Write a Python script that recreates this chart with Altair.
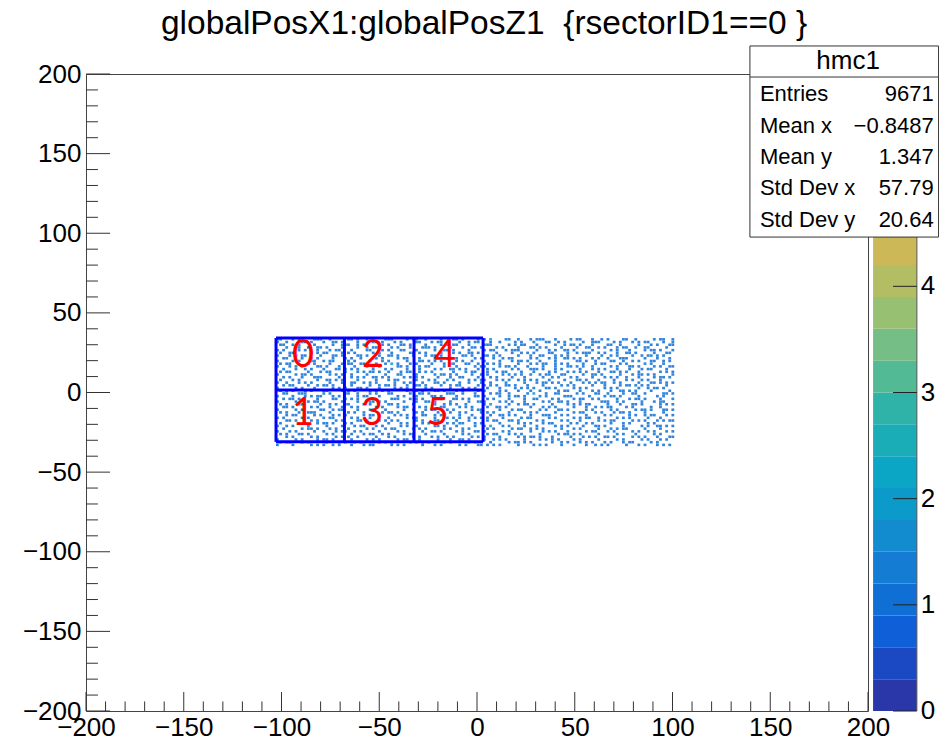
import altair as alt
import pandas as pd

# Bin occupancy read by eye from the noisy region (. empty, digit = bin content)
cell_rows = [
"11...1.1....111..1.....11.1..1.1...111....1.11..1....1...11.1....1.1.2....11..1...1.111...1....1.11...1..1.1....11..1.....1.11..1",
"1..1....11.1...1..11.1....1....11.1...1.1....11...1.11.....1..1.11...1..1....1.1...1...11..1.1.....1..111....1.1...1.1.11....1..1",
".11..1.1....1.....1..111..1.1.....1.1...11.1....1....1.1.11...1....111.....1.1.11...1.....1..1.11.1...1....11..1.....1...1.1...11",
"...1..11..1..11.1....1....1..1.11....1.1...1...111.1....1...1..11.1....1.1....1...11.1.1....1....1..11..1.1...1.11..1..11.....1..",
"1.1....1.1...1...1.11...1....11...1.1...11...1.....1..11.1....1....1.11...1.111.....1...1.1..11.1.....1.....1.1...1....1.11.1...1",
".1..11.....1.1.11....1.1.1.....1.1...1.....11.1.1....1...1.1..11.1.....1....1..1.1.1....11....1..1.111..1.1...1..11.1.....1...11.",
"1...1.1.11....1...11.1....11.1...1..11.1....1...1.11.1......11.1...11.1.1.....1...1..11...1.1.1.....1....1..1.1....1..1.11.1.1...",
"..11....1..1.1....1...1.1..1...11.1....1.11...1....1...11.1.....1.1...1..1.11.....1.1...1.1..11.1.1...1.1..1...111.....1...1...1.",
"1....1.1...11..1.11....1.1....1...1.1.....1...11.1.1.1....1.1..1...1....1...1.11.1...1....1......11.1..1....11..1..1.1...11..1.1.",
".1.11.....1.1....1...1.11..11...1..1.2.1...1.1....1...1.11...11..1..1.1.1.....1...1.1.11..1.1.1....1...1.11....1.1.....1.1...1...",
"1...1.1.1....11.1...1....1...1.1.1.....11.1...1.11....1...1.....1.11....1.11.1...1....1...1...11.1.1..1.....1.1...11.1....1.1..11",
"..1...1..1.1...1...11.1.1.1....1...1.1....1...1....1.1..11.1.1...1..1.1.....1.1...111.1...1.1.....1...1.1.1...1...1...1.11....1..",
".1.11.....1...1.11....1...1.1.11.1..1...1.11..1.1.1......1...1.11...1..1.11....1...1....1.1...1.1.1.1...1...11.1.1...1......1.1.1",
"1.....1.11.1.....1.1.1..1....1.....1...11....1.....1.11.1.1....1..1.1....1.1.1.1..1..1.11...11.....1..11.1.....1...1.11.1.1.....1",
"..1.1...1...111.....1...1.1.1..11.1.1....1.1.1.1....1...1..11....1...1.1....1...1.....1..1.1...1.1....1...1.1.1..1...1....1.11.1.",
".1...1.1.....1..11.1.1....1.....1...1.11.....1...1.1...1.1....1.1.11...1.1.1..1.1.1.1...1....1...11.1...1....1...1.1..1.1...1....",
"1..1...1.1.1.....1...1..11..1.1.1.....1..1.1...1...11.1....1..1...1..1....1.....1...1.11.1.1...1...1.1.1.11..1.1.....1...11.1.1.1",
"..1.11....1..1.11.1.....1.....1..1.11.1...1..11.1....1..1.11.....1.1.1.1..11.1...1....1.....1.1.1.....1...1....1.11.1.1.1.....1..",
"1.....1.1...1.....1.1.1...11.1...1....1.1.1.....1.1.....1...1.1.1...1...1....1.1.1.1...11.1.....1.1.1.....1.1.1......1..1.11.1...",
".1.1.1...1.1...11....1.1.1....1.1.1.1.....1..1.1...11.1...1.1....1.1....1.1...1...1..1.....1.11...1...1.1...1..11.1.1....1.....1.",
"..11...111.....1.1....11..1...1.1...11.....1..11.1.....111..1...1....1.11..1.....1.2...1..11.....1.1...11..1....1..11..1.....11.1",
"1....1...1.1.11...1.1.....1.11...1.....1.1...1....11.1....1.....11.1....1..1.11.1....1.1.....111.....1....1.11.1.....1.....1.1...",
"..1.11.1.....1....11..1.1.1....1.....111...1.1.1.....1...11.1.1.....1.1....1....1..11....1.1....1.11..1.1.....1...1.11.1....1...1",
"1.....1...1.11.1.....1....1...11.1.1.....1...1..11.1....1.....1..111....1.1.1...1.....1.1..11.1...1......111..1.1.....1...1.11...",
".1.1...11.....1..1.1..11....1.1.....11.1....1......1..1.1.1..1.....1.2.....1..1.11.1.....1....1.1.1.11.....1...1...11.1.....1.1.1",
"..11.1.....1.1...1...1..1.1.....1.1....1.11...1.1....11....1.1.1....1..11.1.......1...1.1.1.....1...1..1.1.11....1.1.....1..1....",
"1.....1.1.....11..1.11....1...11...1.....1..1...1.11...1.1.....1.11.....1...1.11.....1.1...11.1.....1.1.....1.1.....1.11.1...11.1",
".1.1...1..111....1.....1.1..1.....1.11.1.....1.1....1...1..1.1....1.1.1....1....1.1.1.....1.....1.11...1.1...1.11.1....1.....1...",
"...1.11.....1.1...1.1.1.....1.11.1....1.1.1....11..1.1.....1...1.....1..11.1.1....1...111...1.1.....1.....1.1.....1.1..1.11...1.1",
"1.1.....1.1....1.11.....1.1...1.....1.....1.11.....1...1.1.1..1.1.1.1....1.....1.11.....1.1.....1.1.11..1.....1.1.1.....1...1....",
"...11.1....1.1.....1.1....11.1...1.1.1.1.....1.1...11.....1...1.....1.11...11.1.....1.1.....1.1...1.....1.1.11.....1.1.1...1.1.11",
".1.....1.1...1.11.1...1.1.....1.....1...1.1....1.1.....1.1.11...1.1.....1.....1.1.1...1.11.....1.1..1.1.....1...1.1.....1.1......",
"1..1.1....1.....1....1...1.11...1.1.....1.1..1.....11.1...1.....1..1.2...1.1....1...1.....1.1.1....1...11.1.....1.....1.1..11.1.1",
"..1.....1.11.1...1.1...1.....1.1...1.11.....1.1.1.....1.1...1.1.....1.1.....1.11..1.1.1.....1...1.1.....1...1.1.11.....1....1....",
"1...1.1.....1..1...1.11..1.1.....1.....1.1.....1..11.1....1.1...11.1.....1.1......1...1.1.1...1.....1.11...1.1.....1.1..1.1...1.1",
".1.1...11.1.....1.1.....1...1.11..1.1....1.11...1.....1.....1.1.....1.11...1.1.1.....1.....1.11.1.1.....1.....1.1...1.....1.1....",
"...1.1.....1.1.....1.1.1..1.....1...1.1.....1.1...1.1..1.1.....1.1.1....1.....1.1.11.1...1.....1...1.1.1..11.1.....1.1.1...1...11",
"1.....1.1....1.11.1.....1....1.1.1.....1.11...1.....1...1..11.1....1..1.1.1.....1....1.1.1.1....1.1.....1.....1.1.....1.1...1.1..",
".1.11...1.1.....1...1.1..1.1.....1.1.1.....1.1.1.1....1.1.....1.1....1.....1.11.1.1......1..1.1...1.1.1...1.1...1.11.....1.1.....",
"1....1.....1.1.1..1.1...1...1.11.....1.1.1.....1...1.1.....1.1...11.1.1.1.....1....1.1.1....1...1...1..1.1.1.....1...1.1...1.1.1.",
]

palette = ["#2a37a8", "#1b49c3", "#0f60d8", "#0f6fd5", "#147cd2", "#128cce", "#0c9acb",
           "#0ba5c6", "#1aadb8", "#2fb3a8", "#52bb95", "#75be85", "#98c072", "#b3bd63",
           "#cdb858", "#e0b84a", "#f0bf3a", "#f7cc30", "#f8dc25", "#f9f014"]
bar_levels = [i * 0.3 for i in range(20)]
bar_ticks = [0, 1, 2, 3, 4]
major = [-200, -150, -100, -50, 0, 50, 100, 150, 200]
minor = [v for v in range(-200, 201, 10) if v % 50 != 0]
grid_x = [-102.8, -67.8, -32.2, 3.1]
grid_y = [34.2, 1.6, -31.0]
region_labels = [("0", -89, 23), ("2", -53.2, 23), ("4", -16.4, 23),
                 ("1", -89, -13.5), ("3", -53.7, -13.5), ("5", -20.2, -13.5)]
stats_rows = [("Entries", "9671"), ("Mean x", "\u22120.8487"), ("Mean y", "1.347"),
              ("Std Dev x", "57.79"), ("Std Dev y", "20.64")]
stats_y = [187.5, 167.5, 148, 128.5, 108.5]

cells = []
for r, row in enumerate(cell_rows):
    for c, ch in enumerate(row[:130]):
        if ch != ".":
            x0 = -102.8 + c * 1.58
            y0 = 34.2 - r * 1.7
            cells.append({"x": x0, "x2": x0 + 1.45, "y": y0, "y2": y0 - 1.6, "n": int(ch)})
cells = pd.DataFrame(cells)

FONT = "Liberation Sans"
X = alt.Scale(domain=[-200, 200], nice=False, zero=False)
Y = alt.Scale(domain=[-200, 200], nice=False, zero=False)
x_axis = alt.Axis(values=major, tickSize=0, domain=False, grid=False, labelFontSize=26,
                  labelFont=FONT, labelColor="#000", labelPadding=3, labelOverlap=False,
                  labelFlush=False, labelBound=False)
y_axis = alt.Axis(values=major, tickSize=0, domain=False, grid=False, labelFontSize=26,
                  labelFont=FONT, labelColor="#000", labelPadding=5, labelOverlap=False,
                  labelFlush=False, labelBound=False)
xq = lambda f="x": alt.X(f"{f}:Q", scale=X, title=None, axis=x_axis)
yq = lambda f="y": alt.Y(f"{f}:Q", scale=Y, title=None, axis=y_axis)

level_scale = alt.Scale(type="threshold", domain=bar_levels[1:], range=palette)
noise = alt.Chart(cells).mark_rect(opacity=0.85).encode(
    x=xq(), x2="x2:Q", y=yq(), y2="y2:Q",
    color=alt.Color("n:Q", scale=level_scale, legend=None),
)

# inward axis ticks
tick_rows = []
for v in major:
    tick_rows.append({"x": v, "x2": v, "y": -200, "y2": -188.1})
    tick_rows.append({"x": -200, "x2": -187.7, "y": v, "y2": v})
for v in minor:
    tick_rows.append({"x": v, "x2": v, "y": -200, "y2": -194})
    tick_rows.append({"x": -200, "x2": -193.9, "y": v, "y2": v})
ticks = alt.Chart(pd.DataFrame(tick_rows)).mark_rule(color="#333", strokeWidth=1).encode(
    x=xq(), x2="x2:Q", y=yq(), y2="y2:Q")

gv = alt.Chart(pd.DataFrame({"x": grid_x, "y": grid_y[0], "y2": grid_y[-1]})).mark_rule(
    color="#0000ff", strokeWidth=3).encode(x=xq(), y=yq(), y2="y2:Q")
gh = alt.Chart(pd.DataFrame({"y": grid_y, "x": grid_x[0], "x2": grid_x[-1]})).mark_rule(
    color="#0000ff", strokeWidth=3).encode(x=xq(), x2="x2:Q", y=yq())

digits = alt.Chart(pd.DataFrame(region_labels, columns=["t", "x", "y"])).mark_text(
    color="#ff0000", font="Lato", fontSize=38, align="center", baseline="middle").encode(
    x=xq(), y=yq(), text="t:N")

# colour bar (z scale 0..6 mapped on the plot's height)
to_y = lambda z: -200 + z * 400 / 6
bar = pd.DataFrame({"x": 202.6, "x2": 225.0, "y": [to_y(z) for z in bar_levels],
                    "y2": [to_y(z + 0.3) for z in bar_levels], "c": palette})
bar_marks = alt.Chart(bar).mark_rect().encode(
    x=xq(), x2="x2:Q", y=yq(), y2="y2:Q", color=alt.Color("c:N", scale=None, legend=None))
bar_edge = alt.Chart(pd.DataFrame({"x": [225.0], "y": [-200], "y2": [200]})).mark_rule(
    color="#555", strokeWidth=1).encode(x=xq(), y=yq(), y2="y2:Q")
bar_tick = alt.Chart(pd.DataFrame({"x": 212.8, "x2": 225.0, "y": [to_y(z) for z in bar_ticks]})).mark_rule(
    color="#222", strokeWidth=1).encode(x=xq(), x2="x2:Q", y=yq())
bar_text = alt.Chart(pd.DataFrame({"x": 227.0, "y": [to_y(z) for z in bar_ticks],
                                   "t": [str(z) for z in bar_ticks]})).mark_text(
    font=FONT, fontSize=26, align="left", baseline="middle", color="#000").encode(
    x=xq(), y=yq(), text="t:N")

# statistics box
box = alt.Chart(pd.DataFrame({"x": [139.6], "x2": [236.1], "y": [97.6], "y2": [217.6]})).mark_rect(
    fill="#fff", stroke="#333", strokeWidth=1).encode(x=xq(), x2="x2:Q", y=yq(), y2="y2:Q")
box_line = alt.Chart(pd.DataFrame({"x": [139.6], "x2": [236.1], "y": [198.1]})).mark_rule(
    color="#333", strokeWidth=1).encode(x=xq(), x2="x2:Q", y=yq())
box_title = alt.Chart(pd.DataFrame({"x": [189.8], "y": [208], "t": ["hmc1"]})).mark_text(
    font=FONT, fontSize=26, align="center", baseline="middle", color="#000").encode(
    x=xq(), y=yq(), text="t:N")
stat_df = pd.DataFrame({"k": [a for a, _ in stats_rows], "v": [b for _, b in stats_rows], "y": stats_y})
stat_k = alt.Chart(stat_df.assign(x=144.7)).mark_text(
    font=FONT, fontSize=22, align="left", baseline="middle", color="#000").encode(x=xq(), y=yq(), text="k:N")
stat_v = alt.Chart(stat_df.assign(x=233.6)).mark_text(
    font=FONT, fontSize=22, align="right", baseline="middle", color="#000").encode(x=xq(), y=yq(), text="v:N")

title = alt.Chart(pd.DataFrame({"x": [3.6], "y": [231.3],
                                "t": ["globalPosX1:globalPosZ1\u00a0\u00a0{rsectorID1==0 }"]})).mark_text(
    font=FONT, fontSize=33.5, align="center", baseline="middle", color="#000").encode(
    x=xq(), y=yq(), text="t:N")

chart = alt.layer(noise, ticks, gv, gh, digits, bar_marks, bar_edge, bar_tick, bar_text,
                  box, box_line, box_title, stat_k, stat_v, title).properties(
    width=782, height=637,
    padding={"left": 78, "top": 66, "right": 71, "bottom": 30},
    autosize=alt.AutoSizeParams(type="none"),
).configure_view(stroke="#444", strokeWidth=1).resolve_scale(color="independent")

chart.save("out.html", embed_options={"renderer": "svg", "actions": False})
